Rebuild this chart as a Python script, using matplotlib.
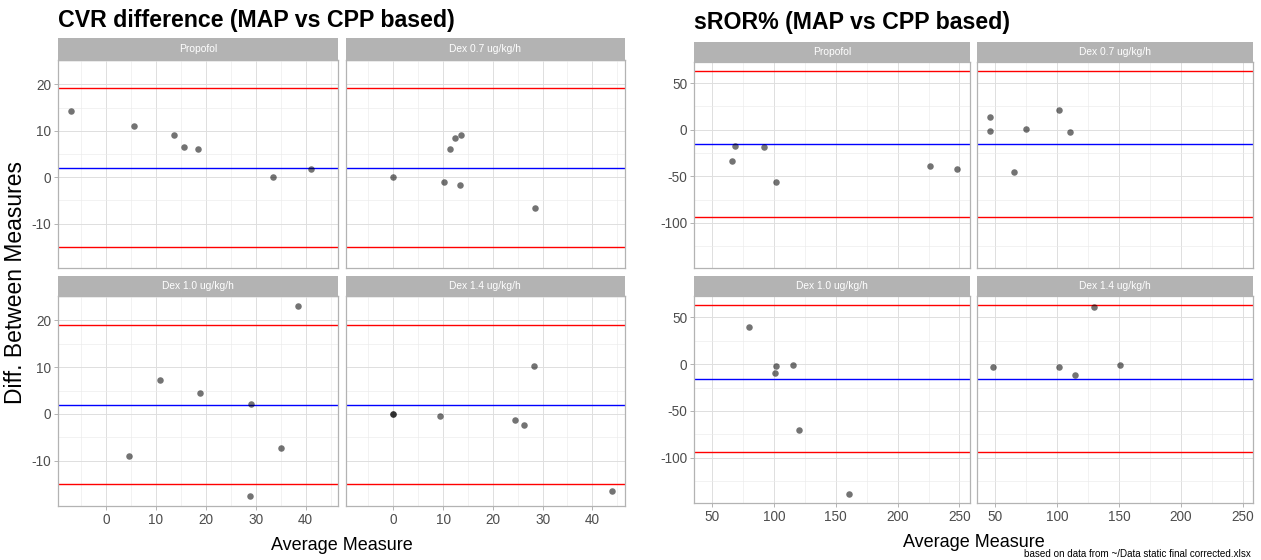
import matplotlib
matplotlib.use("Agg")
import matplotlib.pyplot as plt
from matplotlib.ticker import MultipleLocator

plt.rcParams['font.family'] = ['Liberation Sans', 'DejaVu Sans']
plt.rcParams['axes.unicode_minus'] = False

# facet labels
facets = ['Propofol', 'Dex 0.7 ug/kg/h', 'Dex 1.0 ug/kg/h', 'Dex 1.4 ug/kg/h']

# CVR difference: average measure (x) and difference (y) per facet
cvr_prop_avg = [-7.0, 5.6, 13.7, 15.7, 18.5, 33.4, 41.0]
cvr_prop_diff = [14.3, 11.1, 9.1, 6.4, 6.1, 0.0, 1.8]
cvr_d07_avg = [0.0, 10.2, 11.3, 12.5, 13.6, 13.4, 28.5]
cvr_d07_diff = [0.0, -1.0, 6.0, 8.4, 9.1, -1.8, -6.7]
cvr_d10_avg = [4.6, 10.8, 18.9, 29.0, 28.8, 35.0, 38.5]
cvr_d10_diff = [-9.1, 7.2, 4.4, 2.2, -17.6, -7.3, 23.2]
cvr_d14_avg = [0.0, 0.0, 9.3, 24.4, 26.2, 28.3, 44.0]
cvr_d14_diff = [0.0, 0.0, -0.4, -1.3, -2.3, 10.2, -16.5]
cvr_bias, cvr_upper, cvr_lower = 2.0, 19.1, -15.1

# sROR%: average measure (x) and difference (y) per facet
sror_prop_avg = [66.2, 68.8, 91.9, 101.3, 226.3, 248.4]
sror_prop_diff = [-33.2, -17.9, -18.9, -56.1, -39.3, -42.1]
sror_d07_avg = [46.1, 45.5, 65.6, 75.0, 101.5, 110.3]
sror_d07_diff = [13.2, -1.4, -45.7, 0.4, 21.1, -2.1]
sror_d10_avg = [80.2, 101.3, 100.6, 115.6, 120.1, 161.0]
sror_d10_diff = [39.7, -1.8, -9.6, -1.4, -70.6, -138.7]
sror_d14_avg = [48.4, 101.5, 114.5, 130.0, 150.8]
sror_d14_diff = [-3.2, -2.8, -11.3, 61.0, -1.4]
sror_bias, sror_upper, sror_lower = -15.7, 62.8, -94.2

W, H = 1261, 560
fig = plt.figure(figsize=(W / 100, H / 100), dpi=100)

GREY70 = '#B3B3B3'


def add_px_axes(x0, x1, y0, y1):
    return fig.add_axes([x0 / W, 1 - y1 / H, (x1 - x0) / W, (y1 - y0) / H])


def expand(values):
    lo, hi = min(values), max(values)
    pad = (hi - lo) * 0.05
    return lo - pad, hi + pad


def draw_chart(title, title_y, cols, rows, xs, ys, lines, step, xlabel_y, ylabel):
    bias, upper, lower = lines
    xlim = expand([v for xx in xs for v in xx])
    ylim = expand([v for yy in ys for v in yy] + [upper, lower])
    for i in range(4):
        r, c = divmod(i, 2)
        x0, x1 = cols[c]
        sy0, sy1, py1 = rows[r]
        strip = add_px_axes(x0, x1, sy0, sy1)
        strip.set_facecolor(GREY70)
        strip.set_xticks([])
        strip.set_yticks([])
        for s in strip.spines.values():
            s.set_visible(False)
        strip.text(0.5, 0.5, facets[i], color='white', fontsize=7.4,
                   ha='center', va='center', transform=strip.transAxes)

        ax = add_px_axes(x0, x1, sy1, py1)
        ax.set_xlim(xlim)
        ax.set_ylim(ylim)
        ax.xaxis.set_major_locator(MultipleLocator(step))
        ax.xaxis.set_minor_locator(MultipleLocator(step / 2))
        ax.yaxis.set_major_locator(MultipleLocator(step))
        ax.yaxis.set_minor_locator(MultipleLocator(step / 2))
        ax.grid(which='major', color='#DEDEDE', linewidth=0.7)
        ax.grid(which='minor', color='#EBEBEB', linewidth=0.45)
        ax.set_axisbelow(True)
        for s in ax.spines.values():
            s.set_color(GREY70)
            s.set_linewidth(0.9)
        ax.tick_params(which='major', length=3, width=0.7, color=GREY70,
                       labelcolor='#4D4D4D', labelsize=9.8, pad=2)
        ax.tick_params(which='minor', length=0)
        if c == 1:
            ax.tick_params(axis='y', which='major', left=False, labelleft=False)
        if r == 0:
            ax.tick_params(axis='x', which='major', bottom=False, labelbottom=False)

        ax.axhline(upper, color='#FF0000', linewidth=1.0, zorder=2)
        ax.axhline(lower, color='#FF0000', linewidth=1.0, zorder=2)
        ax.axhline(bias, color='#0000FF', linewidth=1.0, zorder=2)
        ax.scatter(xs[i], ys[i], s=22, color='black', alpha=0.55,
                   linewidths=0, zorder=3)

    fig.text(cols[0][0] / W, 1 - title_y / H, title, fontsize=16.7,
             fontweight='bold', ha='left', va='baseline')
    fig.text((cols[0][0] + cols[1][1]) / 2 / W, 1 - xlabel_y / H,
             'Average Measure', fontsize=13, ha='center', va='baseline')
    if ylabel:
        fig.text(16 / W, 1 - (rows[0][1] + rows[1][2]) / 2 / H, ylabel,
                 fontsize=16.5, rotation=90, ha='center', va='center')


draw_chart('CVR difference (MAP vs CPP based)', 26.7,
           [(58.3, 338.3), (345.7, 625.0)],
           [(38.3, 60.0, 268.3), (275.7, 296.0, 505.7)],
           [cvr_prop_avg, cvr_d07_avg, cvr_d10_avg, cvr_d14_avg],
           [cvr_prop_diff, cvr_d07_diff, cvr_d10_diff, cvr_d14_diff],
           (cvr_bias, cvr_upper, cvr_lower), 10, 549.5,
           'Diff. Between Measures')

draw_chart('sROR% (MAP vs CPP based)', 28.5,
           [(694.0, 970.0), (977.0, 1253.3)],
           [(41.5, 61.7, 268.3), (276.0, 296.0, 503.3)],
           [sror_prop_avg, sror_d07_avg, sror_d10_avg, sror_d14_avg],
           [sror_prop_diff, sror_d07_diff, sror_d10_diff, sror_d14_diff],
           (sror_bias, sror_upper, sror_lower), 50, 547.0, None)

fig.text(1251 / W, 1 - 557 / H,
         'based on data from ~/Data static final corrected.xlsx',
         fontsize=7.1, ha='right', va='baseline')

fig.savefig('out.png', dpi=100)
